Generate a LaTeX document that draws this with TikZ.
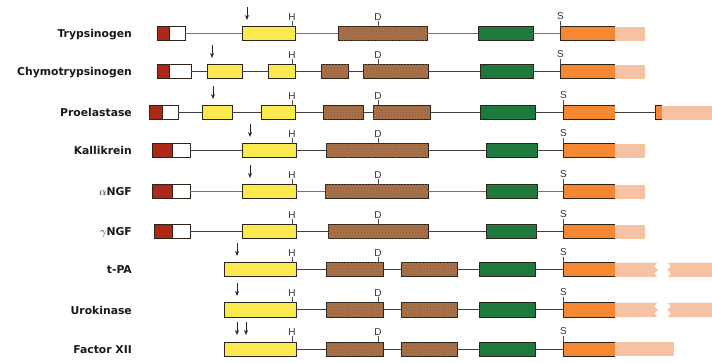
\documentclass[tikz,border=0pt]{standalone}
\usepackage{fontspec}
\setmainfont{Liberation Sans}
\newfontfamily\lblfont{DejaVu Sans}
\usetikzlibrary{arrows.meta,patterns}
\definecolor{sigred}{RGB}{172,40,24}
\definecolor{exyellow}{RGB}{250,234,80}
\definecolor{exbrown}{RGB}{170,114,74}
\definecolor{exgreen}{RGB}{30,122,60}
\definecolor{exorange}{RGB}{246,136,52}
\definecolor{exfade}{RGB}{247,194,164}
\definecolor{edgec}{RGB}{45,35,25}
\tikzset{
  exon/.style={draw=edgec, line width=1pt, inner sep=0pt, outer sep=0pt, minimum height=14pt, anchor=west},
  brownex/.style={postaction={pattern=crosshatch dots, pattern color=exbrown!80!black}},
  orangebox/.style={draw=none, fill=exorange, inner sep=0pt, outer sep=0pt, minimum height=14pt, anchor=west},
  fadebox/.style={fill=exfade, draw=none, inner sep=0pt, outer sep=0pt, minimum height=14pt, anchor=west},
  edgeline/.style={draw=edgec, line width=1pt},
  intron/.style={draw=black!75, line width=1pt},
  lightintron/.style={draw=black!55, line width=1pt},
  tickline/.style={draw=black!70, line width=0.7pt},
  site/.style={font=\fontsize{10}{10}\selectfont, inner sep=0.6pt, anchor=south, text=black!80},
  cleave/.style={-{Stealth[length=5pt,width=4pt]}, line width=0.9pt, draw=black!85},
  glabel/.style={font=\lblfont\bfseries\fontsize{10.8}{12}\selectfont, anchor=base east, text=black!90, inner sep=0pt},
}
\newcommand\ex[5]{\node[exon, fill=#2, minimum width={(#4-#3)*1pt}] (#1) at (#3,#5) {};}
\newcommand\bex[4]{\node[exon, fill=exbrown, brownex, minimum width={(#3-#2)*1pt}] (#1) at (#2,#4) {};}
\newcommand\orng[4]{\node[orangebox, minimum width={(#3-#2)*1pt}] (#1) at (#2,#4) {};
  \draw[edgeline] (#1.north east) -- (#1.north west) -- (#1.south west) -- (#1.south east);}
\newcommand\fade[4]{\node[fadebox, minimum width={(#3-#2)*1pt}] (#1) at (#2,#4) {};}
\newcommand\siteH[2]{\draw[tickline] ([xshift=#2pt]#1.north east) -- ++(0,-6) node[site]{H};}
\newcommand\siteD[2]{\draw[tickline] ([xshift=#2pt]#1.north west) -- ++(0,-6) node[site]{D};}
\newcommand\siteS[1]{\draw[tickline] ([xshift=0.5pt]#1.north west) -- ++(0,-6) node[site]{S};}
\newcommand\cut[2]{\draw[cleave] ([xshift=#2pt,yshift=20pt]#1.north west) -- ++(0,13);}
\newcommand\jag[3]{%
  \fill[exfade] (#1.north east) -- (657,#3-7) -- (654,#3-3.5) -- (658,#3) -- (654,#3+3.5) -- (657,#3+7) -- (#1.south east) -- cycle;
  \coordinate (#2) at (712,#3);
  \fill[exfade] (712,#3-7) -- (668,#3-7) -- (671,#3-3.5) -- (667,#3) -- (671,#3+3.5) -- (668,#3+7) -- (712,#3+7) -- cycle;}
\begin{document}
\begin{tikzpicture}[x=1pt,y=-1pt]
\useasboundingbox (0,0) rectangle (712,363);
\fill[white] (0,0) rectangle (712,363);

% Row 1: Trypsinogen
\node[glabel] (la) at (132,38) {Trypsinogen};
\ex{a1}{sigred}{157}{169}{34}
\ex{a2}{white}{169}{185}{34}
\ex{a3}{exyellow}{242}{295}{34}
\bex{a4}{338}{427}{34}
\ex{a5}{exgreen}{478}{533}{34}
\orng{a6}{560}{615}{34}
\fade{a7}{615}{645}{34}
\draw[lightintron] (a2.east) -- (a3.west) (a3.east) -- (a4.west) (a4.east) -- (a5.west) (a5.east) -- (a6.west);
\cut{a3}{5}
\siteH{a3}{-3}
\siteD{a4}{40}
\siteS{a6}

% Row 2: Chymotrypsinogen
\node[glabel] (lb) at (132,76) {Chymotrypsinogen};
\ex{b1}{sigred}{157}{169}{72}
\ex{b2}{white}{169}{191}{72}
\ex{b3}{exyellow}{207}{242}{72}
\ex{b4}{exyellow}{268}{295}{72}
\bex{b5}{321}{348}{72}
\bex{b6}{363}{428}{72}
\ex{b7}{exgreen}{480}{533}{72}
\orng{b8}{560}{615}{72}
\fade{b9}{615}{645}{72}
\draw[intron] (b2.east) -- (b3.west) (b3.east) -- (b4.west) (b4.east) -- (b5.west) (b5.east) -- (b6.west) (b6.east) -- (b7.west) (b7.east) -- (b8.west);
\cut{b3}{5}
\siteH{b4}{-3}
\siteD{b6}{15}
\siteS{b8}

% Row 3: Proelastase
\node[glabel] (lc) at (132,117) {Proelastase};
\ex{c1}{sigred}{149}{162}{113}
\ex{c2}{white}{162}{178}{113}
\ex{c3}{exyellow}{202}{232}{113}
\ex{c4}{exyellow}{261}{295}{113}
\bex{c5}{323}{363}{113}
\bex{c6}{373}{430}{113}
\ex{c7}{exgreen}{480}{535}{113}
\orng{c8}{563}{615}{113}
\orng{c9}{655}{662}{113}
\fade{c10}{662}{712}{113}
\draw[intron] (c2.east) -- (c3.west) (c3.east) -- (c4.west) (c4.east) -- (c5.west) (c5.east) -- (c6.west) (c6.east) -- (c7.west) (c7.east) -- (c8.west) (c8.east) -- (c9.west);
\cut{c3}{11}
\siteH{c4}{-3}
\siteD{c6}{5}
\siteS{c8}

% Row 4: Kallikrein
\node[glabel] (ld) at (132,155) {Kallikrein};
\ex{d1}{sigred}{152}{172}{151}
\ex{d2}{white}{172}{190}{151}
\ex{d3}{exyellow}{242}{296}{151}
\bex{d4}{326}{428}{151}
\ex{d5}{exgreen}{486}{537}{151}
\orng{d6}{563}{615}{151}
\fade{d7}{615}{645}{151}
\draw[intron] (d2.east) -- (d3.west) (d3.east) -- (d4.west) (d4.east) -- (d5.west) (d5.east) -- (d6.west);
\cut{d3}{8}
\siteH{d3}{-4}
\siteD{d4}{52}
\siteS{d6}

% Row 5: alpha NGF
\node[glabel] (le) at (132,196) {$\alpha$NGF};
\ex{e1}{sigred}{152}{172}{192}
\ex{e2}{white}{172}{190}{192}
\ex{e3}{exyellow}{242}{296}{192}
\bex{e4}{325}{428}{192}
\ex{e5}{exgreen}{486}{537}{192}
\orng{e6}{563}{615}{192}
\fade{e7}{615}{645}{192}
\draw[lightintron] (e2.east) -- (e3.west) (e3.east) -- (e4.west) (e4.east) -- (e5.west) (e5.east) -- (e6.west);
\cut{e3}{8}
\siteH{e3}{-4}
\siteD{e4}{53}
\siteS{e6}

% Row 6: gamma NGF
\node[glabel] (lf) at (132,236) {$\gamma$NGF};
\ex{f1}{sigred}{154}{172}{232}
\ex{f2}{white}{172}{190}{232}
\ex{f3}{exyellow}{242}{296}{232}
\bex{f4}{328}{428}{232}
\ex{f5}{exgreen}{486}{536}{232}
\orng{f6}{563}{615}{232}
\fade{f7}{615}{645}{232}
\draw[intron] (f2.east) -- (f3.west) (f3.east) -- (f4.west) (f4.east) -- (f5.west) (f5.east) -- (f6.west);
\siteH{f3}{-4}
\siteD{f4}{50}
\siteS{f6}

% Row 7: t-PA
\node[glabel] (lg) at (132,274) {t-PA};
\ex{g1}{exyellow}{224}{296}{270}
\bex{g2}{326}{383}{270}
\bex{g3}{401}{457}{270}
\ex{g4}{exgreen}{479}{535}{270}
\orng{g5}{563}{615}{270}
\jag{g5}{g6}{270}
\draw[intron] (g1.east) -- (g2.west) (g2.east) -- (g3.west) (g3.east) -- (g4.west) (g4.east) -- (g5.west);
\cut{g1}{13}
\siteH{g1}{-4}
\siteD{g2}{52}
\siteS{g5}

% Row 8: Urokinase
\node[glabel] (lh) at (132,314) {Urokinase};
\ex{h1}{exyellow}{224}{296}{310}
\bex{h2}{326}{383}{310}
\bex{h3}{401}{457}{310}
\ex{h4}{exgreen}{479}{535}{310}
\orng{h5}{563}{615}{310}
\jag{h5}{h6}{310}
\draw[intron] (h1.east) -- (h2.west) (h2.east) -- (h3.west) (h3.east) -- (h4.west) (h4.east) -- (h5.west);
\cut{h1}{13}
\siteH{h1}{-4}
\siteD{h2}{52}
\siteS{h5}

% Row 9: Factor XII
\node[glabel] (li) at (132,353) {Factor XII};
\ex{i1}{exyellow}{224}{296}{349}
\bex{i2}{326}{383}{349}
\bex{i3}{401}{457}{349}
\ex{i4}{exgreen}{479}{535}{349}
\orng{i5}{563}{615}{349}
\fade{i6}{615}{674}{349}
\draw[intron] (i1.east) -- (i2.west) (i2.east) -- (i3.west) (i3.east) -- (i4.west) (i4.east) -- (i5.west);
\cut{i1}{13}
\cut{i1}{22}
\siteH{i1}{-4}
\siteD{i2}{52}
\siteS{i5}
\end{tikzpicture}
\end{document}
